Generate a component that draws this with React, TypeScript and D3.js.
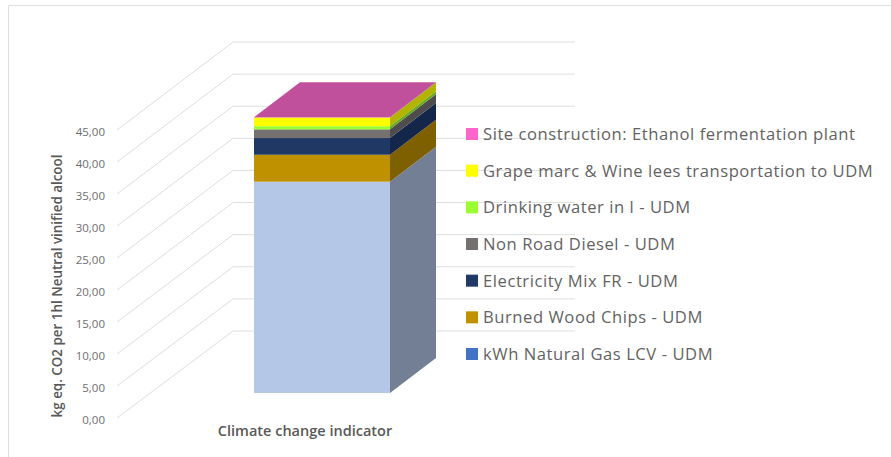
import React from 'react';
import * as d3 from 'd3';

const seriesNames = [
  'kWh Natural Gas LCV - UDM',
  'Burned Wood Chips - UDM',
  'Electricity Mix FR - UDM',
  'Non Road Diesel - UDM',
  'Drinking water in l - UDM',
  'Grape marc & Wine lees transportation to UDM',
  'Site construction: Ethanol fermentation plant',
];
const seriesValues = [32.9, 4.2, 2.6, 1.35, 0.5, 1.35, 0.05];
const legendColors = ['#4472c4', '#bf9000', '#203864', '#767171', '#99ff33', '#ffff00', '#ff66cc'];
const frontColors = ['#b4c7e7', '#bf9000', '#203864', '#767171', '#99ff33', '#ffff00', '#ff66cc'];
const sideColors = ['#737f95', '#7f6000', '#14264a', '#4e4c4c', '#66aa22', '#b3b300', '#b3478f'];
const topColor = '#c0509b';
const yTicks = [0, 5, 10, 15, 20, 25, 30, 35, 40, 45];
const categoryLabel = 'Climate change indicator';
const yAxisLabel = 'kg eq. CO2 per 1hl Neutral vinified alcool';

const W = 891;
const H = 457;
const font = '"Open Sans", sans-serif';

export default function App() {
  // three views of the same value axis: floor edge, back wall, bar front
  const yFront = d3.scaleLinear().domain([0, 45]).range([418, 130]);
  const yBack = d3.scaleLinear().domain([0, 45]).range([331, 42]);
  const yBar = d3.scaleLinear().domain([0, 45]).range([393, 104]);
  const barX0 = 254;
  const barX1 = 390;
  const depthX = 46;
  const depthY = -35;

  const stacked = d3
    .stack<number[]>()
    .keys(seriesNames.map((_, i) => String(i)))
    .value((d, k) => d[+k])([seriesValues]);

  const line = d3.line();
  const total = d3.sum(seriesValues);
  const legendY = d3
    .scalePoint()
    .domain(d3.range(seriesNames.length).map(String))
    .range([354, 134]);

  return (
    <svg
      width={W}
      height={H}
      style={{ position: 'absolute', left: 0, top: 0, background: '#fff' }}
    >
      <path d="M8.5,457 V5.5 H891" fill="none" stroke="#dedede" />

      {yTicks.map((t) => (
        <g key={t}>
          <path
            d={
              line([
                [117, yFront(t)],
                [233, yBack(t)],
                [575, yBack(t)],
              ]) as string
            }
            fill="none"
            stroke="#dedede"
            strokeWidth={1}
          />
          <text
            x={105}
            y={yFront(t) + 6}
            textAnchor="end"
            fontFamily={font}
            fontSize={11.5}
            fill="#6e6e6e"
          >
            {t.toFixed(2).replace('.', ',')}
          </text>
        </g>
      ))}

      {stacked.map((s, i) => {
        const y0 = yBar(s[0][0]);
        const y1 = yBar(s[0][1]);
        return (
          <g key={i}>
            <path
              d={
                (line([
                  [barX1, y0],
                  [barX1 + depthX, y0 + depthY],
                  [barX1 + depthX, y1 + depthY],
                  [barX1, y1],
                ]) as string) + 'Z'
              }
              fill={sideColors[i]}
            />
            <rect x={barX0} y={y1} width={barX1 - barX0} height={y0 - y1} fill={frontColors[i]} />
          </g>
        );
      })}
      <path
        d={
          (line([
            [barX0, yBar(total)],
            [barX1, yBar(total)],
            [barX1 + depthX, yBar(total) + depthY],
            [barX0 + depthX, yBar(total) + depthY],
          ]) as string) + 'Z'
        }
        fill={topColor}
      />

      {seriesNames.map((name, i) => {
        const y = legendY(String(i)) as number;
        return (
          <g key={name}>
            <rect x={466} y={y - 6} width={12} height={12} fill={legendColors[i]} />
            <text
              x={483}
              y={y + 6}
              fontFamily={font}
              fontSize={16.6}
              letterSpacing={0.55}
              fill="#636363"
            >
              {name}
            </text>
          </g>
        );
      })}

      <text
        x={305}
        y={436}
        textAnchor="middle"
        fontFamily={font}
        fontSize={14.5}
        fontWeight={600}
        fill="#595959"
      >
        {categoryLabel}
      </text>
      <text
        transform="translate(62,286) rotate(-90)"
        textAnchor="middle"
        fontFamily={font}
        fontSize={13.4}
        fontWeight={600}
        fill="#595959"
      >
        {yAxisLabel}
      </text>
    </svg>
  );
}
